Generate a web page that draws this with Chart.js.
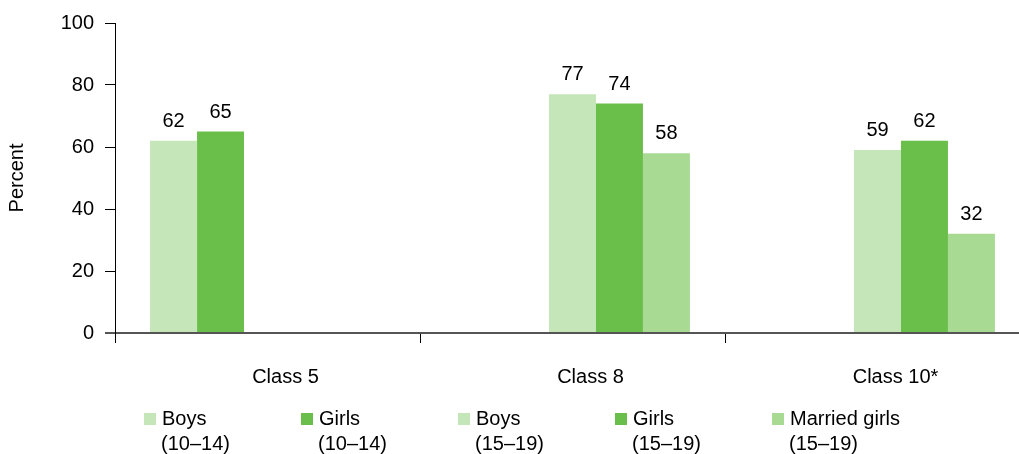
<!DOCTYPE html>
<html>
<head>
<meta charset="utf-8">
<script src="https://cdn.jsdelivr.net/npm/chart.js@4/dist/chart.umd.min.js"></script>
<style>
	html, body { margin: 0; padding: 0; background: #fff; overflow: hidden; }
	#wrap { position: relative; width: 1040px; height: 454px; }
</style>
</head>
<body>
<div id="wrap"><canvas id="barChart"></canvas></div>
<script>
	var categories = ['Class 5', 'Class 8', 'Class 10*'];
	var seriesNames = [['Boys', '(10–14)'], ['Girls', '(10–14)'], ['Boys', '(15–19)'], ['Girls', '(15–19)'], ['Married girls', '(15–19)']];
	var boys1014 = [62, null, null];
	var girls1014 = [65, null, null];
	var boys1519 = [null, 77, 59];
	var girls1519 = [null, 74, 62];
	var married1519 = [null, 58, 32];
	var yTicks = [0, 20, 40, 60, 80, 100];

	var colors = ['#c5e6b8', '#6abf4b', '#c5e6b8', '#6abf4b', '#a8da94'];
	var FONT = "'Liberation Sans', Arial, sans-serif";

	//--------------
	//- VALUE LABELS -
	//--------------
	var valueLabels = {
		id: 'valueLabels',
		afterDatasetsDraw: function (chart) {
			var ctx = chart.ctx;
			ctx.save();
			ctx.font = '20px ' + FONT;
			ctx.fillStyle = '#000';
			ctx.textAlign = 'center';
			ctx.textBaseline = 'alphabetic';
			chart.data.datasets.forEach(function (ds, i) {
				chart.getDatasetMeta(i).data.forEach(function (bar, j) {
					if (ds.data[j] === null) return;
					ctx.fillText(ds.data[j], bar.x, bar.y - 14);
				});
			});
			ctx.restore();
		}
	};

	//--------------
	//- LEGEND -
	//--------------
	var bottomLegend = {
		id: 'bottomLegend',
		afterDraw: function (chart) {
			var ctx = chart.ctx;
			ctx.save();
			ctx.font = '20px ' + FONT;
			ctx.textAlign = 'left';
			ctx.textBaseline = 'alphabetic';
			chart.data.datasets.forEach(function (ds, i) {
				var x = 144 + i * 157;
				ctx.fillStyle = ds.backgroundColor;
				ctx.fillRect(x, 413, 12, 12);
				ctx.fillStyle = '#000';
				ctx.fillText(seriesNames[i][0], x + 18, 425);
				ctx.fillText(seriesNames[i][1], x + 17, 450);
			});
			ctx.restore();
		}
	};

	var allSeries = [boys1014, girls1014, boys1519, girls1519, married1519];
	var datasets = allSeries.map(function (values, i) {
		return {
			label: seriesNames[i].join(' '),
			data: values,
			backgroundColor: colors[i],
			borderWidth: 0,
			categoryPercentage: 0.77,
			barPercentage: 1
		};
	});

	var barChartCanvas = document.getElementById('barChart').getContext('2d');
	var barChart = new Chart(barChartCanvas, {
		type: 'bar',
		data: { labels: categories, datasets: datasets },
		options: {
			responsive: true,
			maintainAspectRatio: false,
			animation: false,
			layout: { padding: { top: 18, right: 10, bottom: 71, left: 0 } },
			plugins: {
				legend: { display: false },
				tooltip: { enabled: false }
			},
			scales: {
				x: {
					grid: {
						offset: true,
						drawOnChartArea: false,
						drawTicks: true,
						tickLength: 10,
						color: '#000',
						lineWidth: 1
					},
					border: { color: '#555', width: 2 },
					ticks: {
						color: '#000',
						font: { family: FONT, size: 20 },
						padding: 22,
						labelOffset: 18,
						maxRotation: 0
					},
					afterFit: function (scale) { scale.height = 50; }
				},
				y: {
					min: 0,
					max: 100,
					afterBuildTicks: function (scale) {
						scale.ticks = yTicks.map(function (v) { return { value: v }; });
					},
					grid: {
						drawOnChartArea: false,
						drawTicks: true,
						tickLength: 10,
						color: function (c) { return c.tick && c.tick.value === 0 ? '#555' : '#000'; },
						lineWidth: function (c) { return c.tick && c.tick.value === 0 ? 2 : 1; }
					},
					border: { color: '#000', width: 1 },
					ticks: {
						color: '#000',
						font: { family: FONT, size: 20 },
						padding: 11
					},
					title: {
						display: true,
						text: 'Percent',
						color: '#000',
						font: { family: FONT, size: 20 },
						padding: { top: 5, bottom: 0 }
					},
					afterFit: function (scale) { scale.width = 115; }
				}
			}
		},
		plugins: [valueLabels, bottomLegend]
	});
</script>
</body>
</html>
